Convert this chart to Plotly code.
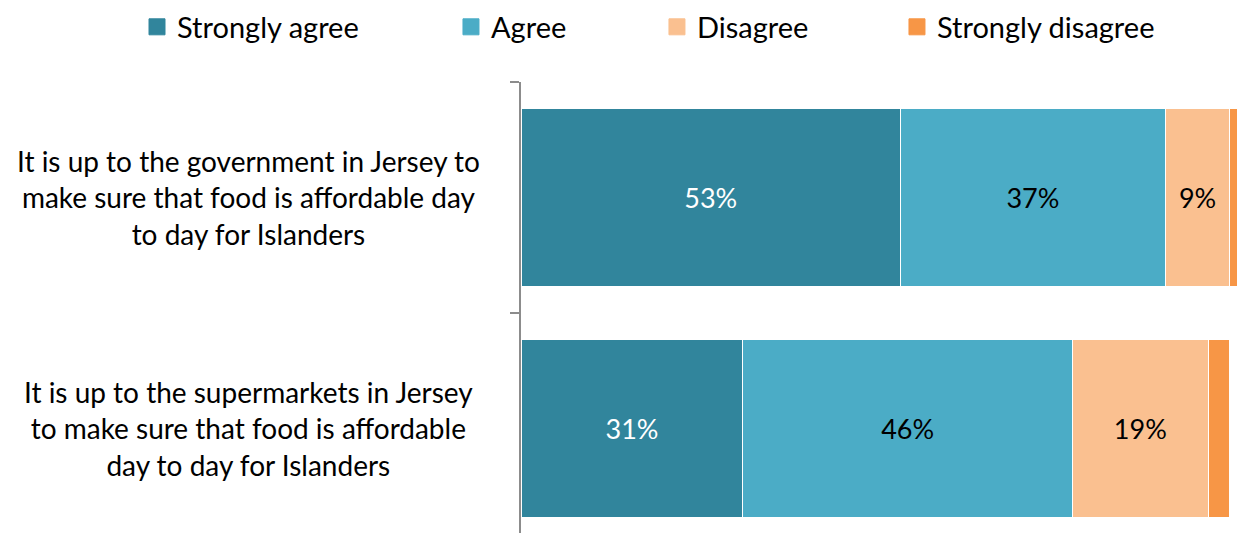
import plotly.graph_objects as go

# Survey statements (top to bottom)
statements = [
    "It is up to the government in Jersey to<br>make sure that food is affordable day<br>to day for Islanders",
    "It is up to the supermarkets in Jersey<br>to make sure that food is affordable<br>day to day for Islanders",
]

responses = ["Strongly agree", "Agree", "Disagree", "Strongly disagree"]

strongly_agree = [53, 31]
agree = [37, 46]
disagree = [9, 19]
strongly_disagree = [1, 3]

series_values = [strongly_agree, agree, disagree, strongly_disagree]
colors = ["#31859C", "#4BACC6", "#FAC090", "#F79646"]
label_colors = ["white", "black", "black", None]

FONT = "Lato, Noto Sans, sans-serif"

# Left edge (paper units) of each legend entry across the top
legend_x = [-0.5363, -0.0978, 0.1899, 0.5251]

fig = go.Figure()
for name, vals, col, lc in zip(responses, series_values, colors, label_colors):
    fig.add_trace(go.Bar(
        name=name,
        y=list(range(len(statements))),
        x=vals,
        orientation="h",
        marker=dict(color=col, line=dict(color="white", width=1)),
        text=[f"{v}%" for v in vals] if lc else None,
        texttemplate="%{text}" if lc else None,
        textposition="inside" if lc else "none",
        insidetextanchor="middle",
        textangle=0,
        textfont=dict(family=FONT, size=27, color=lc or "black"),
        hoverinfo="x+name",
        showlegend=False,
    ))

# Legend keys: one legend per response so each entry sits at its own spot
legend_layout = {}
for i, (name, col, lx) in enumerate(zip(responses, colors, legend_x)):
    key = "legend" if i == 0 else f"legend{i + 1}"
    fig.add_trace(go.Scatter(
        name=name, x=[None], y=[None], mode="markers",
        marker=dict(symbol="square", size=16, color=col,
                    line=dict(color=col, width=1)),
        legend=key, showlegend=True, hoverinfo="skip",
    ))
    legend_layout[key] = dict(
        orientation="h",
        x=lx, xref="paper", xanchor="left",
        y=1.122, yref="paper", yanchor="middle",
        font=dict(family=FONT, size=29, color="black"),
        itemwidth=30,
        bgcolor="rgba(0,0,0,0)",
    )

# Centered multi-line category captions to the left of the axis
for i, s in enumerate(statements):
    fig.add_annotation(
        x=-0.381, xref="paper", y=i, yref="y",
        text=s, showarrow=False, xanchor="center", yanchor="middle",
        align="center",
        font=dict(family=FONT, size=28, color="black"),
    )

fig.update_layout(
    width=1237, height=533,
    margin=dict(l=521, r=0, t=82, b=0),
    barmode="stack",
    bargap=0.23,
    plot_bgcolor="white",
    paper_bgcolor="white",
    showlegend=True,
    font=dict(family=FONT),
    **legend_layout,
)

fig.update_xaxes(range=[0, 100], visible=False, fixedrange=True)
fig.update_yaxes(
    range=[1.452, -0.5],
    tickmode="array",
    tickvals=[-0.5, 0.5, 1.5],
    ticktext=["", "", ""],
    ticks="outside",
    ticklen=9,
    tickwidth=2,
    tickcolor="#8C8C8C",
    showline=True,
    linecolor="#8C8C8C",
    linewidth=2,
    showgrid=False,
    zeroline=False,
    fixedrange=True,
)

fig.write_html("out.html")
